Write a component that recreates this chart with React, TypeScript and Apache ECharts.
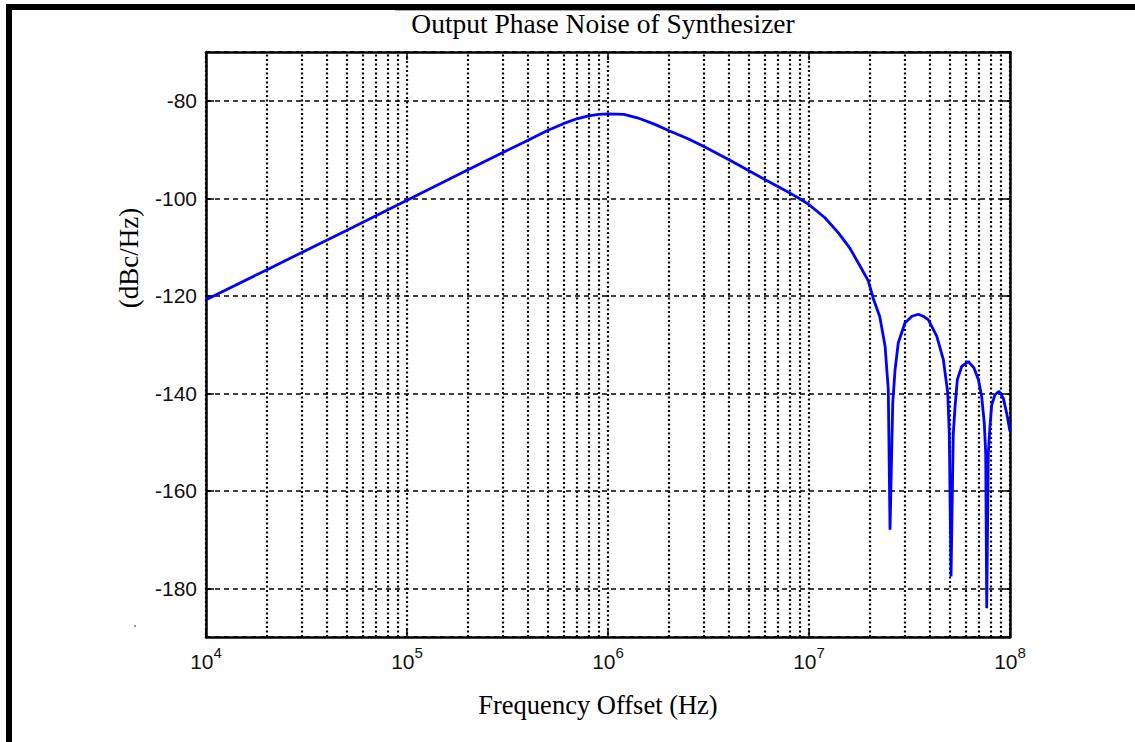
import React, { useEffect, useRef } from "react";
import * as echarts from "echarts";

const titleText = "Output Phase Noise of Synthesizer";
const xAxisTitle = "Frequency Offset (Hz)";
const yAxisTitle = "(dBc/Hz)";

const freqHz = [
  1e4, 2e4, 5e4, 1e5, 2e5, 3e5, 4e5, 5e5, 6e5, 7e5, 8e5, 9e5, 1e6, 1.2e6, 1.4e6, 1.7e6, 2e6, 2.5e6, 3e6, 4e6,
  5e6, 6e6, 7e6, 8e6, 9e6, 1e7, 1.2e7, 1.4e7, 1.6e7, 1.8e7, 1.97e7, 2.09e7, 2.25e7, 2.39e7, 2.48e7, 2.53e7,
  2.61e7, 2.68e7, 2.78e7, 3.0e7, 3.25e7, 3.5e7, 3.7e7, 3.92e7, 4.32e7, 4.66e7, 4.9e7, 4.99e7, 5.09e7, 5.22e7,
  5.33e7, 5.47e7, 5.75e7, 6.2e7, 6.62e7, 6.96e7, 7.23e7, 7.45e7, 7.57e7, 7.66e7, 7.8e7, 7.95e7, 8.11e7, 8.42e7,
  8.82e7, 9.26e7, 9.63e7, 1e8,
];
const phaseNoiseDbc = [
  -120.8, -114.7, -106.6, -100.4, -94.2, -90.6, -88.1, -86.1, -84.7, -83.7, -83.1, -82.8, -82.7, -82.8, -83.5,
  -84.8, -86.1, -87.8, -89.4, -92.1, -94.3, -96.1, -97.6, -98.9, -100.1, -101.3, -104.0, -107.1, -110.3, -114.0,
  -116.9, -120.6, -124.3, -130.3, -139.2, -168, -142, -135.2, -129.7, -125.6, -124.2, -123.8, -124.2, -124.9,
  -128.3, -133.1, -139.9, -148.5, -177.6, -148.5, -142.7, -137.2, -134.5, -133.5, -134.8, -137.2, -140.7, -146.2,
  -152.3, -184.1, -152.3, -146.8, -142.4, -140.3, -139.6, -141, -144.1, -147.8,
];

const minorGridHz = [
  2e4, 3e4, 4e4, 5e4, 6e4, 7e4, 8e4, 9e4,
  2e5, 3e5, 4e5, 5e5, 6e5, 7e5, 8e5, 9e5,
  2e6, 3e6, 4e6, 5e6, 6e6, 7e6, 8e6, 9e6,
  2e7, 3e7, 4e7, 5e7, 6e7, 7e7, 8e7, 9e7,
];

const xMin = 1e4;
const xMax = 1e8;
const yMin = -190;
const yMax = -70;
const yStep = 20;

export default function App() {
  const ref = useRef<HTMLDivElement>(null);

  useEffect(() => {
    if (!ref.current) return;
    const chart = echarts.init(ref.current, null, { renderer: "svg" });
    const sans = "'Liberation Sans', Arial, Helvetica, sans-serif";
    const serif = "'Liberation Serif', 'Times New Roman', serif";
    const dotted = { color: "#000", type: [2, 2.5] as any, width: 2.2 };
    const dashed = { color: "#000", type: [5, 4] as any, width: 1.6 };
    const boxLine = { show: true, onZero: false, lineStyle: { color: "#000", width: 2.5 } };
    const tick = { show: true, inside: true, length: 8, lineStyle: { color: "#000", width: 1.5 } };

    const option: any = {
      animation: false,
      backgroundColor: "#ffffff",
      grid: { left: 206, right: 125, top: 52, bottom: 105, containLabel: false },
      xAxis: [
        {
          type: "log",
          logBase: 10,
          min: xMin,
          max: xMax,
          position: "bottom",
          axisLine: boxLine,
          axisTick: tick,
          axisLabel: {
            margin: 8,
            formatter: (v: number) => `{b|10}{s|${Math.round(Math.log10(v))}}`,
            rich: {
              b: { fontFamily: sans, fontSize: 21, color: "#111", verticalAlign: "bottom", lineHeight: 22 },
              s: { fontFamily: sans, fontSize: 15, color: "#111", verticalAlign: "bottom", padding: [0, 0, 12, 0] },
            },
          },
          splitLine: { show: true, lineStyle: dotted },
          name: xAxisTitle,
          nameLocation: "middle",
          nameGap: 54,
          nameTextStyle: { fontFamily: serif, fontSize: 26.5, color: "#000", padding: [0, 20, 0, 0] },
        },
        {
          type: "log",
          logBase: 10,
          min: xMin,
          max: xMax,
          position: "top",
          axisLine: boxLine,
          axisTick: tick,
          axisLabel: { show: false },
          splitLine: { show: false },
        },
      ],
      yAxis: [
        {
          type: "value",
          min: yMin,
          max: yMax,
          minInterval: yStep,
          maxInterval: yStep,
          splitNumber: 6,
          position: "left",
          axisLine: boxLine,
          axisTick: tick,
          axisLabel: {
            margin: 9,
            fontFamily: sans,
            fontSize: 21,
            color: "#111",
            showMinLabel: false,
            showMaxLabel: false,
            formatter: (v: number) => (v === yMin || v === yMax ? "" : String(v)),
          },
          splitLine: { show: true, lineStyle: dashed },
        },
        {
          type: "value",
          min: yMin,
          max: yMax,
          minInterval: yStep,
          maxInterval: yStep,
          splitNumber: 6,
          position: "right",
          axisLine: boxLine,
          axisTick: tick,
          axisLabel: { show: false },
          splitLine: { show: false },
        },
      ],
      series: [
        {
          type: "line",
          xAxisIndex: 0,
          yAxisIndex: 0,
          data: [],
          z: 1,
          silent: true,
          markLine: {
            silent: true,
            symbol: ["none", "none"],
            label: { show: false },
            lineStyle: dotted,
            emphasis: { disabled: true },
            data: minorGridHz.map((f) => ({ xAxis: f })),
          },
        },
        {
          type: "line",
          xAxisIndex: 0,
          yAxisIndex: 0,
          z: 5,
          showSymbol: false,
          symbol: "none",
          lineStyle: { color: "#0000ff", width: 2.8 },
          itemStyle: { color: "#0000ff" },
          data: freqHz.map((f, i) => [f, phaseNoiseDbc[i]]),
        },
      ],
      graphic: [
        { type: "rect", shape: { x: 6, y: 4, width: 1129, height: 6 }, style: { fill: "#000" } },
        { type: "rect", shape: { x: 6, y: 4, width: 6, height: 738 }, style: { fill: "#000" } },
        { type: "line", shape: { x1: 395, y1: 10.5, x2: 779, y2: 10.5 }, style: { stroke: "#aaa", lineWidth: 1 } },
        { type: "circle", shape: { cx: 135, cy: 626, r: 0.8 }, style: { fill: "#555" } },
        {
          type: "text",
          x: 603,
          y: 23,
          style: {
            text: titleText,
            textAlign: "center",
            textVerticalAlign: "middle",
            fontFamily: serif,
            fontSize: 27.5,
            fill: "#000",
          },
        },
        {
          type: "text",
          x: 129,
          y: 258,
          rotation: Math.PI / 2,
          style: {
            text: yAxisTitle,
            textAlign: "center",
            textVerticalAlign: "middle",
            fontFamily: serif,
            fontSize: 27,
            fill: "#000",
          },
        },
      ],
    };
    chart.setOption(option);
    return () => chart.dispose();
  }, []);

  return (
    <div
      ref={ref}
      style={{ position: "fixed", left: 0, top: 0, width: 1135, height: 742, background: "#fff" }}
    />
  );
}
